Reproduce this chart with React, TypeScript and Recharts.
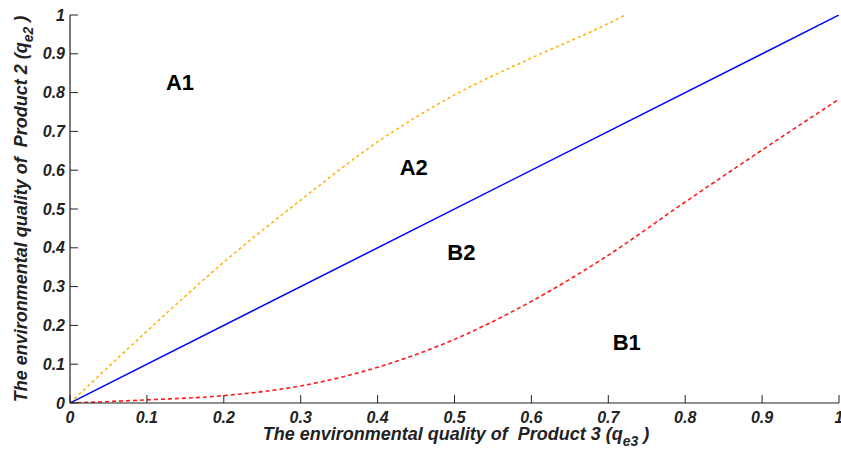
import React from "react";
import { LineChart, Line, XAxis, YAxis, ReferenceDot } from "recharts";

document.body.style.margin = "0";

const TICKS = [0, 0.1, 0.2, 0.3, 0.4, 0.5, 0.6, 0.7, 0.8, 0.9, 1];

// upper boundary (orange dashed)
const upperX = [0, 0.1, 0.2, 0.3, 0.4, 0.5, 0.6, 0.7, 0.722];
const upperY = [0, 0.185, 0.363, 0.523, 0.673, 0.794, 0.889, 0.978, 1];

// diagonal q_e2 = q_e3
const diagX = [0, 1];
const diagY = [0, 1];

// lower boundary (red dashed)
const lowerX = [0, 0.1, 0.2, 0.3, 0.4, 0.5, 0.6, 0.7, 0.8, 0.9, 1];
const lowerY = [0, 0.008, 0.019, 0.044, 0.092, 0.164, 0.262, 0.381, 0.518, 0.652, 0.783];

const regionNames = ["A1", "A2", "B2", "B1"];
const regionX = [0.143, 0.447, 0.509, 0.724];
const regionY = [0.827, 0.608, 0.389, 0.157];

const toPts = (xs: number[], ys: number[]) => xs.map((x, i) => ({ x, y: ys[i] }));

const W = 841;
const H = 454;
const MARGIN = { top: 15, right: 2, left: 0, bottom: 0 };
const Y_W = 70;
const X_H = 51;
const PLOT_LEFT = MARGIN.left + Y_W;
const PLOT_BOTTOM = H - MARGIN.bottom - X_H;

const FONT = "'Liberation Sans', Arial, sans-serif";
const fmt = (v: number) => (v === 0 || v === 1 ? `${v}` : v.toFixed(1));

function YTick({ y, payload }: any) {
  return (
    <g>
      <line x1={PLOT_LEFT} x2={PLOT_LEFT + 8} y1={y} y2={y} stroke="#222" strokeWidth={1} />
      <text x={PLOT_LEFT - 5} y={y} textAnchor="end" dominantBaseline="central" fontFamily={FONT} fontSize={16} fontWeight="bold" fontStyle="italic" fill="#222">
        {fmt(payload.value)}
      </text>
    </g>
  );
}

function XTick({ x, payload }: any) {
  return (
    <g>
      <line x1={x} x2={x} y1={PLOT_BOTTOM} y2={PLOT_BOTTOM - 8} stroke="#222" strokeWidth={1} />
      <text x={x} y={PLOT_BOTTOM + 14} textAnchor="middle" dominantBaseline="central" fontFamily={FONT} fontSize={16} fontWeight="bold" fontStyle="italic" fill="#222">
        {fmt(payload.value)}
      </text>
    </g>
  );
}

export default function App() {
  return (
    <div style={{ position: "relative", width: W, height: H, background: "#fff" }}>
      <LineChart width={W} height={H} margin={MARGIN}>
        <XAxis
          type="number"
          dataKey="x"
          domain={[0, 1]}
          ticks={TICKS}
          interval={0}
          height={X_H}
          axisLine={{ stroke: "#222", strokeWidth: 1.2 }}
          tickLine={false}
          tick={<XTick />}
          allowDataOverflow
        />
        <YAxis
          type="number"
          dataKey="y"
          domain={[0, 1]}
          ticks={TICKS}
          interval={0}
          width={Y_W}
          axisLine={{ stroke: "#222", strokeWidth: 1.2 }}
          tickLine={false}
          tick={<YTick />}
          allowDataOverflow
        />
        <Line data={toPts(upperX, upperY)} dataKey="y" type="monotone" stroke="#FFB000" strokeWidth={1.5} strokeDasharray="3 3" dot={false} isAnimationActive={false} />
        <Line data={toPts(diagX, diagY)} dataKey="y" type="linear" stroke="#0000FF" strokeWidth={1.5} dot={false} isAnimationActive={false} />
        <Line data={toPts(lowerX, lowerY)} dataKey="y" type="monotone" stroke="#FF1A1A" strokeWidth={1.6} strokeDasharray="4 3" dot={false} isAnimationActive={false} />
        {regionNames.map((name, i) => (
          <ReferenceDot
            key={name}
            x={regionX[i]}
            y={regionY[i]}
            r={0}
            stroke="none"
            fill="none"
            label={{ value: name, position: "center", fontFamily: FONT, fontSize: 22, fontWeight: "bold", fill: "#000" }}
          />
        ))}
      </LineChart>
      <svg width={W} height={H} style={{ position: "absolute", left: 0, top: 0, pointerEvents: "none" }}>
        <text x={456} y={440} textAnchor="middle" fontFamily={FONT} fontSize={18} fontWeight="bold" fontStyle="italic" fill="#222">
          {"The environmental quality of \u00a0Product 3 (q"}
          <tspan fontSize={14} dy={6}>e3</tspan>
          <tspan dy={-6}>{"\u00a0)"}</tspan>
        </text>
        <text transform="translate(27,209) rotate(-90)" textAnchor="middle" fontFamily={FONT} fontSize={18} fontWeight="bold" fontStyle="italic" fill="#222">
          {"The environmental quality of \u00a0Product 2 (q"}
          <tspan fontSize={14} dy={6}>e2</tspan>
          <tspan dy={-6}>{"\u00a0)"}</tspan>
        </text>
      </svg>
    </div>
  );
}
